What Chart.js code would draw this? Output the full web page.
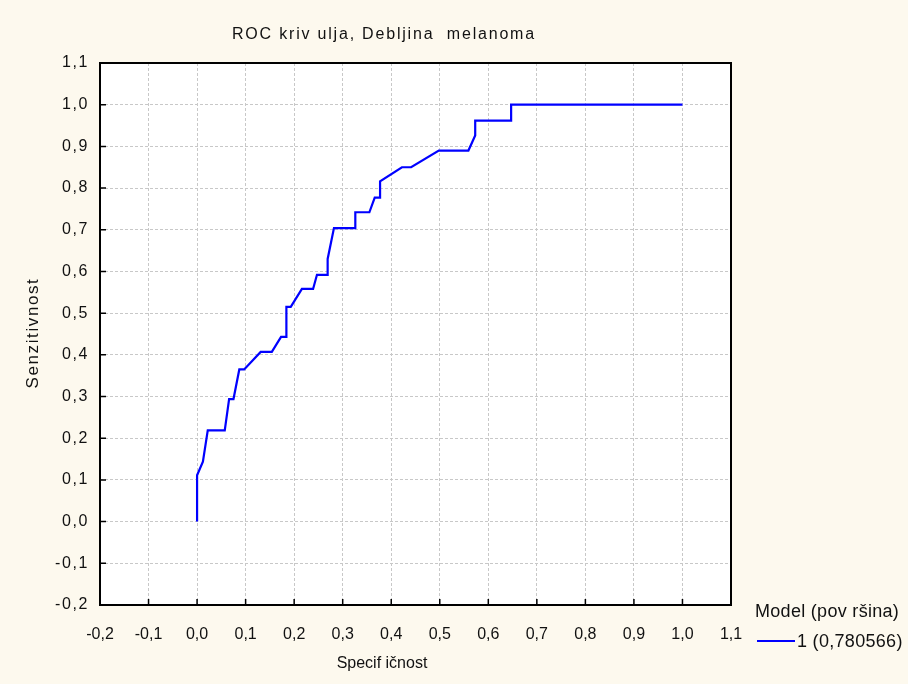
<!DOCTYPE html>
<html>
<head>
<meta charset="utf-8">
<script src="https://cdn.jsdelivr.net/npm/chart.js@4"></script>
<style>
  html, body { margin: 0; padding: 0; background: #fdf9ee; }
  #wrap { width: 908px; height: 684px; }
</style>
</head>
<body>
<div id="wrap"><canvas id="roc"></canvas></div>
<script>
// ROC curve points (1 - specificity on x, sensitivity on y)
const specX = [0, 0, 0.012, 0.022, 0.057, 0.066, 0.075, 0.087, 0.097, 0.131, 0.154, 0.173, 0.184, 0.184,
  0.193, 0.216, 0.239, 0.247, 0.269, 0.269, 0.282, 0.326, 0.326, 0.355, 0.366, 0.377, 0.377, 0.422,
  0.441, 0.498, 0.559, 0.573, 0.573, 0.647, 0.647, 1.0];
const sensY = [0, 0.111, 0.144, 0.219, 0.219, 0.294, 0.294, 0.365, 0.365, 0.407, 0.407, 0.443, 0.443, 0.515,
  0.515, 0.558, 0.558, 0.592, 0.592, 0.630, 0.704, 0.704, 0.742, 0.742, 0.777, 0.777, 0.816, 0.850,
  0.850, 0.890, 0.890, 0.926, 0.962, 0.962, 1.0, 1.0];
const tickVals = [-0.2, -0.1, 0.0, 0.1, 0.2, 0.3, 0.4, 0.5, 0.6, 0.7, 0.8, 0.9, 1.0, 1.1];

const titleText = 'ROC kriv ulja, Debljina  melanoma';
const xTitle = 'Specif ičnost';
const yTitle = 'Senzitivnost';
const legendTitle = 'Model (pov ršina)';
const seriesName = '1 (0,780566)';

const fmt = v => v.toFixed(1).replace('.', ',');
const NARROW = '"Liberation Sans Narrow", "Liberation Sans", sans-serif';
const SANS = '"Liberation Sans", Arial, sans-serif';

const decor = {
  id: 'decor',
  beforeDraw(chart) {
    const { ctx, chartArea: a } = chart;
    ctx.save();
    ctx.fillStyle = '#ffffff';
    ctx.fillRect(a.left, a.top, a.right - a.left, a.bottom - a.top);
    ctx.restore();
  },
  afterDraw(chart) {
    const { ctx, chartArea: a, scales } = chart;
    ctx.save();
    // frame
    ctx.strokeStyle = '#000';
    ctx.lineWidth = 2;
    ctx.strokeRect(a.left, a.top, a.right - a.left, a.bottom - a.top);
    // inward tick marks
    ctx.lineWidth = 1.5;
    ctx.beginPath();
    tickVals.forEach(v => {
      const px = scales.x.getPixelForValue(v);
      ctx.moveTo(px, a.bottom); ctx.lineTo(px, a.bottom - 6);
      const py = scales.y.getPixelForValue(v);
      ctx.moveTo(a.left, py); ctx.lineTo(a.left + 6, py);
    });
    ctx.stroke();

    // y tick labels, a little wider spaced
    ctx.fillStyle = '#111';
    ctx.textBaseline = 'middle';
    ctx.textAlign = 'right';
    ctx.font = '16px ' + SANS;
    ctx.letterSpacing = '1.6px';
    tickVals.forEach(v => {
      ctx.fillText(fmt(v), 89, scales.y.getPixelForValue(v));
    });

    // title
    ctx.textAlign = 'left';
    ctx.letterSpacing = '1.8px';
    ctx.font = '16px ' + SANS;
    ctx.fillText(titleText, 232, 35);

    // axis titles
    ctx.letterSpacing = '0px';
    ctx.textAlign = 'center';
    ctx.font = '16px ' + NARROW;
    ctx.fillText(xTitle, 382, 664);
    ctx.save();
    ctx.translate(33, 333);
    ctx.rotate(-Math.PI / 2);
    ctx.font = '17px ' + SANS;
    ctx.letterSpacing = '1.6px';
    ctx.fillText(yTitle, 0, 0);
    ctx.restore();

    // legend
    ctx.letterSpacing = '0.3px';
    ctx.textAlign = 'left';
    ctx.font = '18px ' + NARROW;
    ctx.fillText(legendTitle, 755, 612);
    ctx.strokeStyle = '#0000ff';
    ctx.lineWidth = 2;
    ctx.beginPath();
    ctx.moveTo(757, 641); ctx.lineTo(795, 641);
    ctx.stroke();
    ctx.fillText(seriesName, 797, 642);
    ctx.restore();
  }
};

new Chart(document.getElementById('roc'), {
  type: 'scatter',
  data: {
    datasets: [{
      label: seriesName,
      data: specX.map((x, i) => ({ x: x, y: sensY[i] })),
      showLine: true,
      borderColor: '#0000ff',
      borderWidth: 2.2,
      pointRadius: 0,
      tension: 0,
      fill: false
    }]
  },
  options: {
    responsive: true,
    maintainAspectRatio: false,
    animation: false,
    layout: { padding: { left: 0, right: 177, top: 63, bottom: 0 } },
    plugins: { legend: { display: false }, title: { display: false }, tooltip: { enabled: false } },
    scales: {
      x: {
        type: 'linear', min: -0.2, max: 1.1,
        afterBuildTicks: s => { s.ticks = tickVals.map(v => ({ value: v })); },
        afterFit: s => { s.height = 79; },
        border: { display: false, dash: [3, 2] },
        grid: { color: '#c8c8c8', drawTicks: false, lineWidth: 1 },
        ticks: {
          color: '#111', padding: 20, maxRotation: 0, autoSkip: false,
          font: { family: NARROW, size: 16 },
          callback: v => fmt(v)
        }
      },
      y: {
        type: 'linear', min: -0.2, max: 1.1,
        afterBuildTicks: s => { s.ticks = tickVals.map(v => ({ value: v })); },
        afterFit: s => { s.width = 100; },
        border: { display: false, dash: [3, 2] },
        grid: { color: '#c8c8c8', drawTicks: false, lineWidth: 1 },
        ticks: { display: false }
      }
    }
  },
  plugins: [decor]
});
</script>
</body>
</html>
